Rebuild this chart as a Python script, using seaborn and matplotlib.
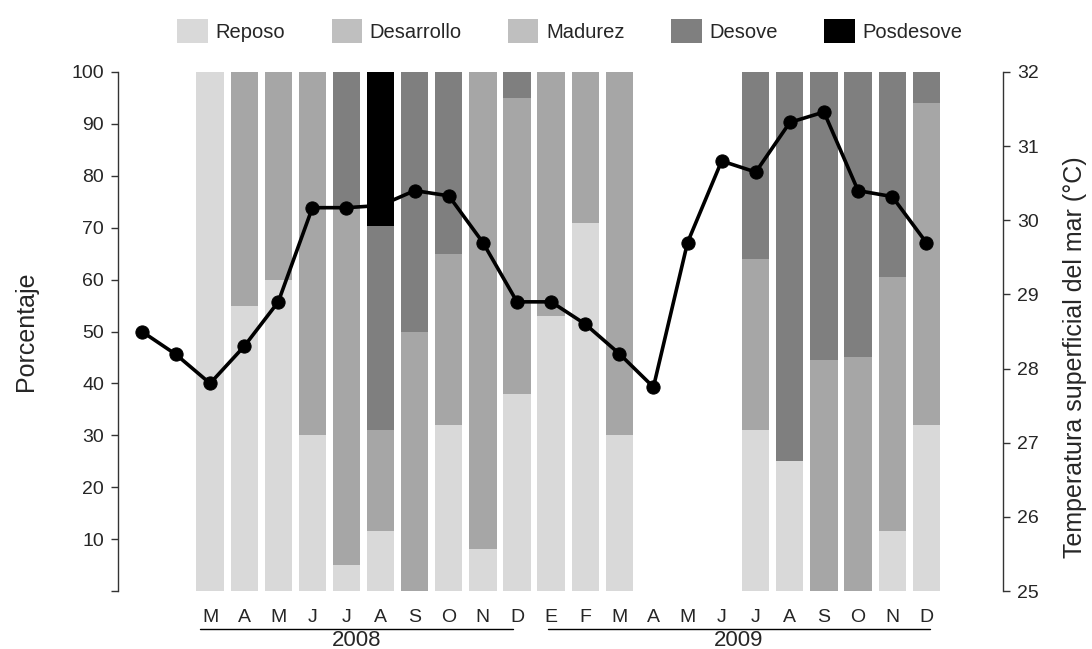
import matplotlib
matplotlib.use("Agg")
import matplotlib.pyplot as plt
from matplotlib.patches import Patch
import matplotlib.transforms as mtransforms
import seaborn as sns
import numpy as np
import pandas as pd

sns.set_theme(style="white")
plt.rcParams['font.family'] = ['Liberation Sans', 'DejaVu Sans']

# ---------------- data ----------------
# 24 months: Jan 2008 .. Dec 2009 (bars only from Mar 2008)
month_labels = ["", "", "M", "A", "M", "J", "J", "A", "S", "O", "N", "D",
                "E", "F", "M", "A", "M", "J", "J", "A", "S", "O", "N", "D"]
years = ["2008", "2009"]

reposo     = [0, 0, 100, 55, 60, 30, 5, 11.5, 0, 32, 8, 38,
              53, 71, 30, 0, 0, 0, 31, 25, 0, 0, 11.5, 32]
desarrollo = [0, 0, 0, 45, 40, 70, 0, 0, 0, 0, 92, 57,
              47, 29, 70, 0, 0, 0, 0, 0, 0, 0, 0, 62]
madurez    = [0, 0, 0, 0, 0, 0, 69, 19.5, 50, 33, 0, 0,
              0, 0, 0, 0, 0, 0, 33, 0, 44.5, 45, 49, 0]
desove     = [0, 0, 0, 0, 0, 0, 26, 39.3, 50, 35, 0, 5,
              0, 0, 0, 0, 0, 0, 36, 75, 55.5, 55, 39.5, 6]
posdesove  = [0, 0, 0, 0, 0, 0, 0, 29.7, 0, 0, 0, 0,
              0, 0, 0, 0, 0, 0, 0, 0, 0, 0, 0, 0]

temperatura = [28.5, 28.19, 27.8, 28.3, 28.9, 30.17, 30.17, 30.2, 30.4, 30.33, 29.7, 28.9,
               28.9, 28.6, 28.2, 27.75, 29.7, 30.8, 30.65, 31.32, 31.46, 30.4, 30.32, 29.7]

series_names = ["Reposo", "Desarrollo", "Madurez", "Desove", "Posdesove"]
bar_colors = {"Reposo": "#d9d9d9", "Desarrollo": "#a6a6a6", "Madurez": "#a6a6a6",
              "Desove": "#7f7f7f", "Posdesove": "#000000"}
legend_colors = {"Reposo": "#d9d9d9", "Desarrollo": "#bfbfbf", "Madurez": "#bfbfbf",
                 "Desove": "#7f7f7f", "Posdesove": "#000000"}

x = np.arange(len(month_labels))
stages = pd.DataFrame({"Reposo": reposo, "Desarrollo": desarrollo, "Madurez": madurez,
                       "Desove": desove, "Posdesove": posdesove}, index=x)
temp_df = pd.DataFrame({"x": x, "temp": temperatura})

# ---------------- figure ----------------
W, H = 1092, 649
fig = plt.figure(figsize=(W / 100, H / 100), dpi=100)
left, right, top, bottom = 118, 1003, 72, 591
ax = fig.add_axes([left / W, 1 - bottom / H, (right - left) / W, (bottom - top) / H])

bottoms = np.zeros(len(x))
for name in series_names:
    vals = stages[name].values
    ax.bar(x, vals, bottom=bottoms, width=0.8, color=bar_colors[name],
           linewidth=0, zorder=2)
    bottoms += vals

ax.set_xlim(-0.7, 25.25)
ax.set_ylim(0, 100)
ax.set_yticks(np.arange(0, 101, 10))
ax.set_yticklabels([""] + [str(v) for v in range(10, 101, 10)])
ax.set_xticks(x[2:])
ax.set_xticklabels(month_labels[2:])
ax.tick_params(axis="x", length=0, labelsize=14, pad=13)
ax.tick_params(axis="y", direction="out", length=5, width=1, color="#333333",
               labelsize=14, left=True, pad=5)
for s in ["top", "right", "bottom"]:
    ax.spines[s].set_visible(False)
ax.spines["left"].set_color("#333333")
ax.spines["left"].set_linewidth(1)
ax.set_ylabel("Porcentaje", fontsize=18, labelpad=24)

# temperature on twin axis
ax2 = ax.twinx()
sns.lineplot(data=temp_df, x="x", y="temp", ax=ax2, color="black", linewidth=2.6,
             marker="o", markersize=9.5, markeredgecolor="black", zorder=5)
ax2.set_ylim(25, 32)
ax2.set_yticks(np.arange(25, 33, 1))
ax2.set_xlim(-0.7, 25.25)
for s in ["top", "left", "bottom"]:
    ax2.spines[s].set_visible(False)
ax2.spines["right"].set_color("#333333")
ax2.spines["right"].set_linewidth(1)
ax2.tick_params(axis="y", direction="out", length=5, width=1, color="#333333",
                labelsize=14, right=True, pad=5)
ax2.set_xlabel("")
ax2.set_ylabel("Temperatura superficial del mar (°C)", fontsize=18)
ax2.yaxis.set_label_coords(1.068, 0.45)

# year brackets below month labels
trans = mtransforms.blended_transform_factory(ax.transData, fig.transFigure)
year_spans = [(1.7, 10.88), (11.9, 23.1)]
line_y = 1 - 629 / H
text_y = 1 - 640 / H
for (x0, x1), yr in zip(year_spans, years):
    ax.plot([x0, x1], [line_y, line_y], transform=trans, color="black",
            linewidth=1, clip_on=False)
    ax.text((x0 + x1) / 2, text_y, yr, transform=trans, ha="center", va="center",
            fontsize=16)

# legend
handles = [Patch(facecolor=legend_colors[n], edgecolor="none", label=n) for n in series_names]
fig.legend(handles=handles, loc="center", bbox_to_anchor=(0.522, 1 - 31 / H), ncol=5,
           frameon=False, fontsize=14.5, handlelength=1.5, handleheight=1.5,
           handletextpad=0.4, columnspacing=2.3)

fig.savefig("out.png", dpi=100)
